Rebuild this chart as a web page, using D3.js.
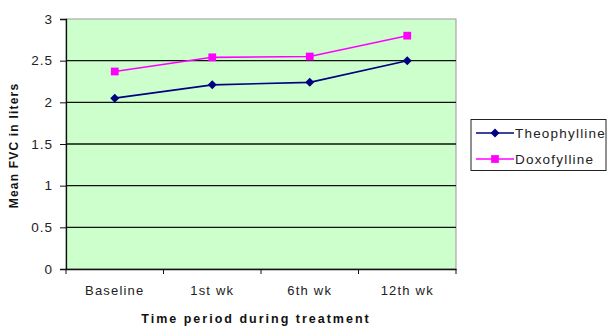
<!DOCTYPE html>
<html><head><meta charset="utf-8">
<script src="https://cdn.jsdelivr.net/npm/d3@7"></script>
<style>body{margin:0;background:#fff}svg{display:block}</style>
</head><body>
<script>
const categories = ["Baseline", "1st wk", "6th wk", "12th wk"];
const theophylline = [2.05, 2.21, 2.24, 2.50];
const doxofylline = [2.37, 2.54, 2.55, 2.80];
const yTicks = [0, 0.5, 1, 1.5, 2, 2.5, 3];
const seriesNames = ["Theophylline", "Doxofylline"];

const W = 607, H = 327;
const m = {left: 66, right: 151, top: 19, bottom: 58};
const svg = d3.select("body").append("svg").attr("width", W).attr("height", H)
  .style("font-family", "'Liberation Sans', Arial, sans-serif");

const x = d3.scaleBand().domain(categories).range([m.left, W - m.right]);
const y = d3.scaleLinear().domain([0, 3]).range([H - m.bottom, m.top]);

// plot background
svg.append("rect").attr("x", m.left).attr("y", m.top)
  .attr("width", W - m.right - m.left).attr("height", H - m.bottom - m.top)
  .attr("fill", "#ccffcc").attr("stroke", "#999").attr("stroke-width", 1);

// gridlines
svg.append("g").selectAll("line").data(yTicks.filter(d => d > 0 && d < 3)).join("line")
  .attr("x1", m.left).attr("x2", W - m.right)
  .attr("y1", d => y(d)).attr("y2", d => y(d))
  .attr("stroke", "#111").attr("stroke-width", 1.3);

// y axis
const yAxis = svg.append("g").attr("transform", `translate(${m.left},0)`)
  .call(d3.axisLeft(y).tickValues(yTicks).tickSize(6).tickPadding(7).tickFormat(d3.format("")));
yAxis.select(".domain").attr("stroke", "#111").attr("stroke-width", 1.3);
yAxis.selectAll(".tick line").attr("stroke", "#111");
yAxis.selectAll("text").attr("font-size", 13.5).attr("fill", "#222").attr("letter-spacing", 1);

// x axis
const xAxis = svg.append("g").attr("transform", `translate(0,${H - m.bottom})`)
  .call(d3.axisBottom(x).tickSize(0).tickPadding(17));
xAxis.select(".domain").attr("stroke", "#111").attr("stroke-width", 1.3);
xAxis.selectAll("text").attr("font-size", 13).attr("fill", "#222").attr("letter-spacing", 1.2);
const bounds = categories.map(c => x(c)).concat([x(categories[categories.length - 1]) + x.bandwidth()]);
xAxis.selectAll(".bt").data(bounds).join("line").attr("class", "bt")
  .attr("x1", d => d).attr("x2", d => d).attr("y1", 0).attr("y2", 5)
  .attr("stroke", "#111").attr("stroke-width", 1);

// axis titles
svg.append("text").attr("x", 256).attr("y", 323).attr("text-anchor", "middle")
  .attr("font-size", 12.5).attr("font-weight", "bold").attr("fill", "#111").attr("letter-spacing", 2)
  .text("Time period during treatment");
svg.append("text").attr("transform", `translate(18,145.5) rotate(-90)`)
  .attr("text-anchor", "middle").attr("font-size", 12).attr("font-weight", "bold").attr("fill", "#111")
  .attr("letter-spacing", 1.2)
  .text("Mean FVC in liters");

const cx = c => x(c) + x.bandwidth() / 2;
const line = d3.line().x((d, i) => cx(categories[i])).y(d => y(d));

const series = [
  {name: seriesNames[0], values: theophylline, color: "#000080", sym: d3.symbolSquare, size: 40, rot: 45},
  {name: seriesNames[1], values: doxofylline, color: "#ff00ff", sym: d3.symbolSquare, size: 60, rot: 0}
];

series.forEach(s => {
  svg.append("path").datum(s.values).attr("d", line).attr("fill", "none")
    .attr("stroke", s.color).attr("stroke-width", 1.6);
  svg.append("g").selectAll("path").data(s.values).join("path")
    .attr("transform", (d, i) => `translate(${cx(categories[i])},${y(d)}) rotate(${s.rot})`)
    .attr("d", d3.symbol().type(s.sym).size(s.size)).attr("fill", s.color);
});

// legend
const lg = svg.append("g");
lg.append("rect").attr("x", 471).attr("y", 119.5).attr("width", 135).attr("height", 51)
  .attr("fill", "#fff").attr("stroke", "#222").attr("stroke-width", 1);
series.forEach((s, i) => {
  const ly = 133 + i * 26;
  lg.append("line").attr("x1", 476).attr("x2", 514).attr("y1", ly).attr("y2", ly)
    .attr("stroke", s.color).attr("stroke-width", 1.6);
  lg.append("path").attr("transform", `translate(495,${ly}) rotate(${s.rot})`)
    .attr("d", d3.symbol().type(s.sym).size(s.size)).attr("fill", s.color);
  lg.append("text").attr("x", 515).attr("y", ly + 5).attr("font-size", 13.5)
    .attr("fill", "#222").attr("letter-spacing", 1.2).text(s.name);
});
</script>
</body></html>
